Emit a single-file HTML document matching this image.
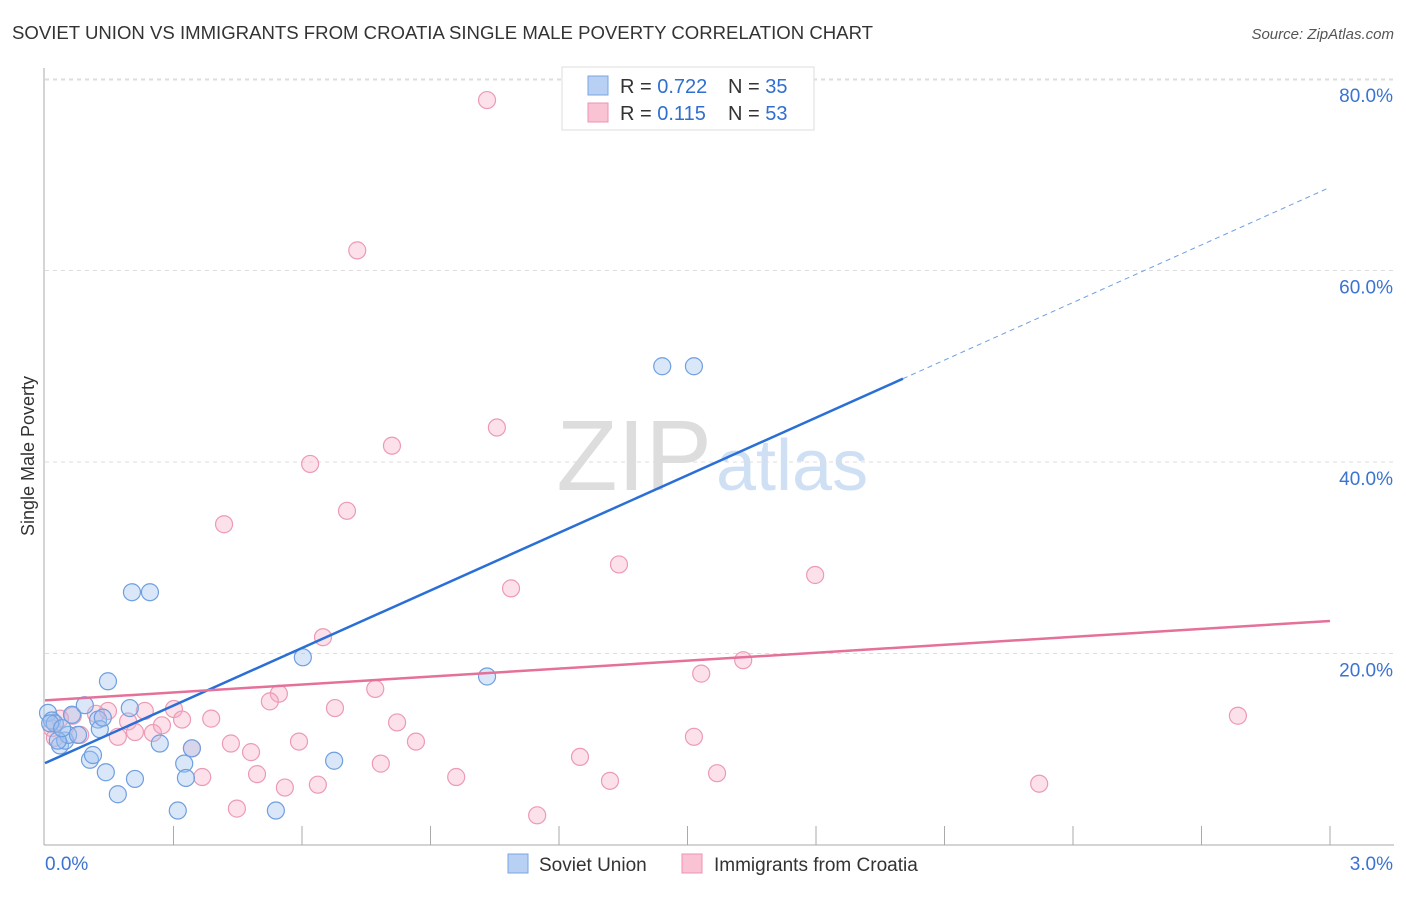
<!DOCTYPE html>
<html><head><meta charset="utf-8"><style>
body{margin:0;background:#fff;font-family:"Liberation Sans",sans-serif;}
svg text{font-family:"Liberation Sans",sans-serif;}
</style></head><body>
<svg id="c" width="1406" height="892">
<text x="12" y="39" font-size="18" fill="#333" textLength="861" lengthAdjust="spacingAndGlyphs">SOVIET UNION VS IMMIGRANTS FROM CROATIA SINGLE MALE POVERTY CORRELATION CHART</text>
<text x="1394" y="39" font-size="15" fill="#555" text-anchor="end" font-style="italic">Source: ZipAtlas.com</text>
<text x="34" y="456" font-size="18" fill="#333" text-anchor="middle" transform="rotate(-90 34 456)">Single Male Poverty</text>
<text x="712" y="490" font-size="100" fill="#ddd" text-anchor="end" font-family="Liberation Serif">ZIP</text>
<text x="716" y="490" font-size="72" fill="#cfe0f5">atlas</text>
<g id="grid"></g><g id="pts"></g><g id="lines"></g>
<g>
<rect x="562" y="67" width="252" height="63" fill="#fff" stroke="#ddd"/>
<rect x="588" y="76" width="20" height="19" fill="#b7d0f3" stroke="#7aa6e3"/>
<rect x="588" y="103" width="20" height="19" fill="#f9c3d3" stroke="#eb93b0"/>
<text x="620" y="93" font-size="20" fill="#333">R = <tspan fill="#2f6fd0">0.722</tspan></text>
<text x="728" y="93" font-size="20" fill="#333">N = <tspan fill="#2f6fd0">35</tspan></text>
<text x="620" y="120" font-size="20" fill="#333">R = <tspan fill="#2f6fd0"> 0.115</tspan></text>
<text x="728" y="120" font-size="20" fill="#333">N = <tspan fill="#2f6fd0">53</tspan></text>
</g>
<g>
<rect x="508" y="854" width="20" height="19" fill="#b7d0f3" stroke="#7aa6e3"/>
<text x="539" y="871" font-size="19" fill="#333">Soviet Union</text>
<rect x="682" y="854" width="20" height="19" fill="#f9c3d3" stroke="#eb93b0"/>
<text x="714" y="871" font-size="19" fill="#333">Immigrants from Croatia</text>
</g>
</svg>
<script>
const xTicks=[0,0.3,0.6,0.9,1.2,1.5,1.8,2.1,2.4,2.7,3.0];
const yTicks=[20,40,60,80];
const yTickLabels=["20.0%","40.0%","60.0%","80.0%"];
const blueX=[0.007,0.016,0.023,0.035,0.047,0.054,0.063,0.077,0.093,0.105,0.112,0.124,0.128,0.135,0.142,0.147,0.170,0.198,0.203,0.210,0.245,0.268,0.310,0.325,0.329,0.343,0.539,0.602,0.675,1.032,1.441,1.515,0.012,0.030,0.040];
const blueY=[13.8,13.0,12.7,10.4,10.9,11.5,13.6,11.5,14.6,8.9,9.4,13.1,12.1,13.3,7.6,17.1,5.3,14.3,26.4,6.9,26.4,10.6,3.6,8.5,7.0,10.1,3.6,19.6,8.8,17.6,50.0,50.0,12.7,10.9,12.2];
const pinkX=[1.032,0.729,1.055,0.810,0.619,0.705,0.418,1.340,1.798,1.088,0.649,1.630,1.532,0.546,0.771,0.525,0.677,2.785,0.233,0.301,0.320,0.388,0.194,0.210,0.252,0.273,0.147,0.119,0.065,0.035,0.016,0.023,0.082,0.170,0.343,0.434,0.481,0.593,0.822,0.866,0.495,0.367,0.560,0.637,0.784,0.960,1.249,1.319,1.569,1.515,2.321,0.448,1.149];
const pinkY=[77.8,62.1,43.6,41.7,39.8,34.9,33.5,29.3,28.2,26.8,21.7,19.3,17.9,15.8,16.3,15.0,14.3,13.5,14.0,14.2,13.1,13.2,12.9,11.8,11.7,12.5,14.0,13.7,13.5,13.2,12.2,11.2,11.5,11.3,10.1,10.6,9.7,10.8,12.8,10.8,7.4,7.1,6.0,6.3,8.5,7.1,9.2,6.7,7.5,11.3,6.4,3.8,3.1];
const X=v=>45+v/3*1285, Y=v=>845-v*9.575;
const NS="http://www.w3.org/2000/svg";
function mk(t,a,p){const e=document.createElementNS(NS,t);for(const k in a)e.setAttribute(k,a[k]);p.appendChild(e);return e;}
const g=document.getElementById('grid');
yTicks.forEach((v,i)=>{
 const l=mk('line',{x1:45,x2:1394,y1:Y(v),y2:Y(v),stroke:'#ddd','stroke-dasharray':'4,4'},g);
 
 
 const t=mk('text',{x:1393,y:Y(v)+23,'font-size':19,fill:'#3a73d1','text-anchor':'end'},g);t.textContent=yTickLabels[i];
 
 
});
mk('line',{x1:45,x2:1394,y1:80,y2:80,stroke:'#ddd','stroke-dasharray':'4,4'},g);
mk('line',{x1:44,x2:44,y1:68,y2:845,stroke:'#aaa'},g);
mk('line',{x1:44,x2:1394,y1:845,y2:845,stroke:'#aaa'},g);
xTicks.forEach((v,i)=>{if(i>0){const l=mk('line',{x1:X(v),x2:X(v),y1:826,y2:845,stroke:'#aaa'},g);
 
 }});
let t=mk('text',{x:45,y:870,'font-size':19,fill:'#3a73d1'},g);t.textContent="0.0%";


t=mk('text',{x:1393,y:870,'font-size':19,fill:'#3a73d1','text-anchor':'end'},g);t.textContent="3.0%";


const p=document.getElementById('pts');
pinkX.forEach((v,i)=>{const c=mk('circle',{cx:X(v),cy:Y(pinkY[i]),r:8.5,fill:'rgba(245,170,195,0.35)',stroke:'#ec9ab5','stroke-width':1.2},p);
 
 });
blueX.forEach((v,i)=>{const c=mk('circle',{cx:X(v),cy:Y(blueY[i]),r:8.5,fill:'rgba(160,195,240,0.4)',stroke:'#6f9fe0','stroke-width':1.2},p);
 
 });
const L=document.getElementById('lines');
const bA=8.55,bB=(48.7-8.55)/2.003;
let e=mk('line',{x1:X(0),y1:Y(bA),x2:X(2.003),y2:Y(bA+bB*2.003),stroke:'#2a6fd6','stroke-width':2.5},L);


e=mk('line',{x1:X(2.003),y1:Y(bA+bB*2.003),x2:X(3),y2:Y(bA+bB*3),stroke:'#6f9fe0','stroke-width':1,'stroke-dasharray':'5,4'},L);


e=mk('line',{x1:X(0),y1:Y(15.1),x2:X(3),y2:Y(23.4),stroke:'#e5709a','stroke-width':2.5},L);


</script>
</body></html>
